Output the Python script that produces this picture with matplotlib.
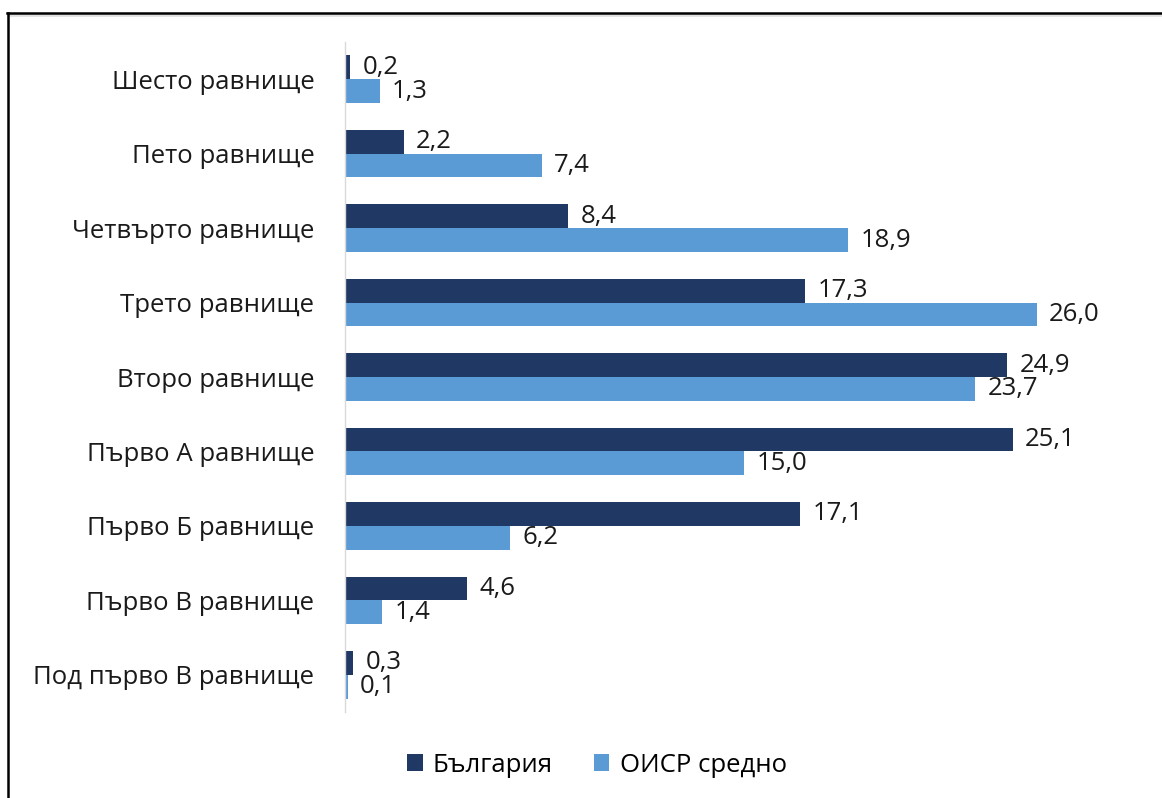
import numpy as np
import matplotlib.pyplot as plt
from matplotlib.lines import Line2D

plt.rcParams['font.family'] = ['Open Sans', 'DejaVu Sans']

# categories from top to bottom
levels = ['Шесто равнище', 'Пето равнище', 'Четвърто равнище', 'Трето равнище',
          'Второ равнище', 'Първо А равнище', 'Първо Б равнище', 'Първо В равнище',
          'Под първо В равнище']
bulgaria = [0.2, 2.2, 8.4, 17.3, 24.9, 25.1, 17.1, 4.6, 0.3]
oecd = [1.3, 7.4, 18.9, 26.0, 23.7, 15.0, 6.2, 1.4, 0.1]
series_names = ['България', 'ОИСР средно']

dark = '#203864'
light = '#5B9BD5'
txt = '#1a1a1a'
fs = 18.5

fig = plt.figure(figsize=(11.62, 7.98), dpi=100)
ax = fig.add_axes([345 / 1162, 1 - 712 / 798, 785 / 1162, 670 / 798])

y = np.arange(len(levels))
h = 0.32
b1 = ax.barh(y - h / 2, bulgaria, height=h, color=dark, label=series_names[0])
b2 = ax.barh(y + h / 2, oecd, height=h, color=light, label=series_names[1])

for bars, vals in ((b1, bulgaria), (b2, oecd)):
    labels = [f'{v:.1f}'.replace('.', ',') for v in vals]
    ax.bar_label(bars, labels=labels, padding=9, fontsize=fs, color=txt)

ax.set_ylim(len(levels) - 0.5, -0.5)
ax.set_xlim(0, 785 / 26.6)
ax.set_yticks(y)
ax.set_yticklabels(levels, fontsize=fs, color=txt)
ax.tick_params(axis='y', length=0, pad=22)
ax.set_xticks([])
for s in ('top', 'right', 'bottom'):
    ax.spines[s].set_visible(False)
ax.spines['left'].set_color('#d9d9d9')
ax.spines['left'].set_linewidth(1)

ax.legend(loc='center', bbox_to_anchor=(597 / 1162, 1 - 765 / 798),
          bbox_transform=fig.transFigure, ncol=2, frameon=False, fontsize=fs,
          handlelength=0.6, handleheight=0.6, handletextpad=0.4, columnspacing=1.6)

# frame lines (top and left) with a light shadow
fig.add_artist(Line2D([8 / 1162, 1], [1 - 15 / 798] * 2, color='#e0e0e0', lw=2,
                      transform=fig.transFigure))
fig.add_artist(Line2D([7 / 1162, 1], [1 - 12.5 / 798] * 2, color='black', lw=1.8,
                      transform=fig.transFigure))
fig.add_artist(Line2D([7.5 / 1162] * 2, [0, 1 - 12.5 / 798], color='black', lw=1.8,
                      transform=fig.transFigure))

fig.savefig('out.png', dpi=100)
